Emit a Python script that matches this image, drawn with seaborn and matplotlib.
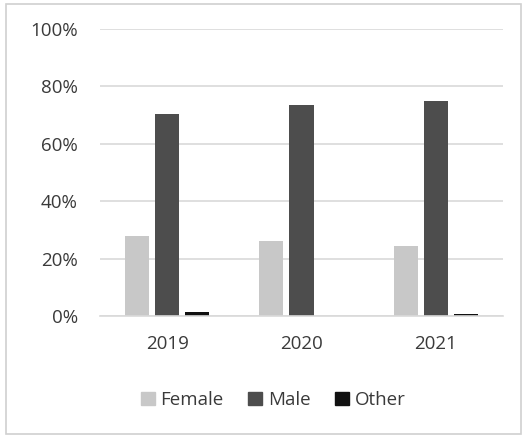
import pandas as pd
import numpy as np
import matplotlib.pyplot as plt
import matplotlib.ticker as mtick
from matplotlib.patches import Rectangle
import seaborn as sns

# data
years = ['2019', '2020', '2021']
female = [28.0, 26.1, 24.4]
male = [70.4, 73.5, 74.9]
other = [1.4, 0.0, 0.7]

groups = ['Female', 'Male', 'Other']
colors = ['#c8c8c8', '#4d4d4d', '#111111']

df = pd.DataFrame({
    'year': years * 3,
    'group': ['Female'] * 3 + ['Male'] * 3 + ['Other'] * 3,
    'share': female + male + other,
})

sns.set_style('white')
plt.rcParams['font.family'] = ['Open Sans', 'DejaVu Sans']

fig = plt.figure(figsize=(5.23, 4.38), dpi=100)
ax = fig.add_axes([100 / 523, 1 - 316 / 438, 403 / 523, 287 / 438])

sns.barplot(data=df, x='year', y='share', hue='group', hue_order=groups,
            palette=colors, width=0.67, gap=0.2, ax=ax, legend=False,
            saturation=1, edgecolor='none')

ax.set_ylim(0, 100)
ax.set_yticks(np.arange(0, 101, 20))
ax.yaxis.set_major_formatter(mtick.PercentFormatter(decimals=0))
ax.grid(axis='y', color='#d9d9d9', linewidth=1.2)
ax.set_axisbelow(True)
ax.set_xlabel('')
ax.set_ylabel('')
for s in ['left', 'right', 'top']:
    ax.spines[s].set_visible(False)
ax.spines['bottom'].set_color('#d9d9d9')
ax.spines['bottom'].set_linewidth(1.2)
ax.tick_params(axis='both', length=0, labelsize=13.5, labelcolor='#3a3a3a')
ax.tick_params(axis='y', pad=16)
ax.tick_params(axis='x', pad=14)

handles = [Rectangle((0, 0), 1, 1, color=c) for c in colors]
fig.legend(handles, groups, loc='center', bbox_to_anchor=(273 / 523, 1 - 400 / 438),
           ncol=3, frameon=False, fontsize=13.5, handlelength=0.75, handleheight=0.75,
           handletextpad=0.3, columnspacing=1.3, labelcolor='#3a3a3a')

# outer frame
fig.add_artist(Rectangle((6 / 523, 4 / 438), 515 / 523, 430 / 438, transform=fig.transFigure,
                         fill=False, edgecolor='#d0d0d0', linewidth=1.2))

plt.savefig('out.png', dpi=100)
plt.close()
